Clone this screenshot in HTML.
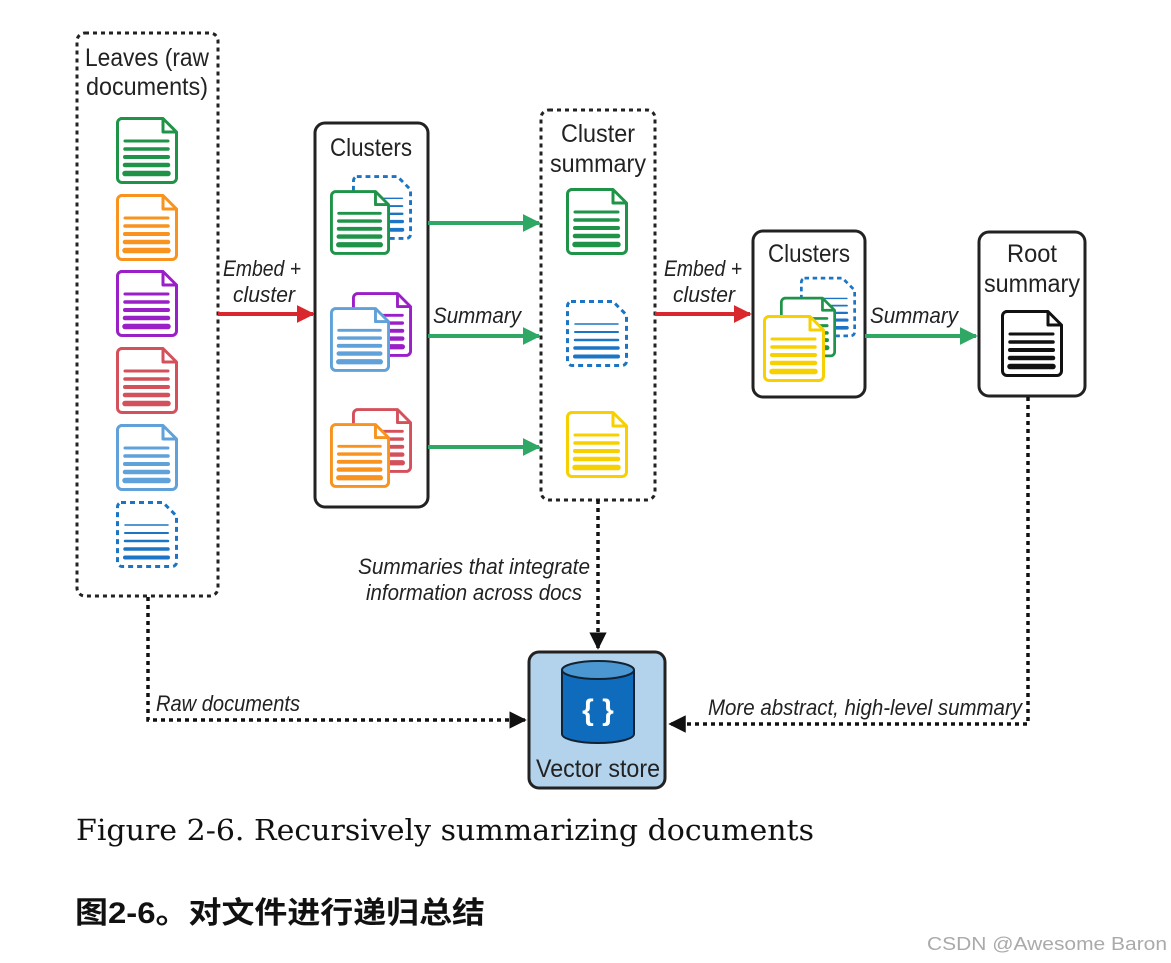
<!DOCTYPE html>
<html><head><meta charset="utf-8"><style>
html,body{margin:0;padding:0;background:#fff;}
svg{display:block}
.t{font-family:"Liberation Sans",sans-serif;fill:#222;}
</style></head><body>
<svg width="1171" height="963" viewBox="0 0 1171 963" xmlns="http://www.w3.org/2000/svg">
<defs>
<symbol id="doc" viewBox="0 0 62 67">
<path d="M5,1.5 H47 L60.5,15 V61 a4.5,4.5 0 0 1 -4.5,4.5 H6 a4.5,4.5 0 0 1 -4.5,-4.5 V6 a4.5,4.5 0 0 1 4.5,-4.5Z" fill="#fff" stroke="currentColor" stroke-width="3" stroke-linejoin="round"/>
<path d="M47,1.5 V15 H60.5" fill="none" stroke="currentColor" stroke-width="3" stroke-linejoin="round"/>
<g stroke="currentColor" stroke-linecap="round">
<line x1="9" y1="24" x2="52" y2="24" stroke-width="3"/>
<line x1="9" y1="32" x2="52" y2="32" stroke-width="3.5"/>
<line x1="9" y1="40" x2="52" y2="40" stroke-width="4"/>
<line x1="9" y1="48" x2="52" y2="48" stroke-width="4.5"/>
<line x1="9" y1="56.5" x2="52" y2="56.5" stroke-width="5.5"/>
</g>
</symbol>
<symbol id="ddoc" viewBox="0 0 62 67">
<path d="M5,1.5 H47 L60.5,15 V61 a4.5,4.5 0 0 1 -4.5,4.5 H6 a4.5,4.5 0 0 1 -4.5,-4.5 V6 a4.5,4.5 0 0 1 4.5,-4.5Z" fill="#fff" stroke="currentColor" stroke-width="3" stroke-dasharray="5 4"/>
<g stroke="currentColor" stroke-linecap="round">
<line x1="9" y1="24" x2="52" y2="24" stroke-width="1.5"/>
<line x1="9" y1="32" x2="52" y2="32" stroke-width="2"/>
<line x1="9" y1="40" x2="52" y2="40" stroke-width="2.5"/>
<line x1="9" y1="48" x2="52" y2="48" stroke-width="3.5"/>
<line x1="9" y1="56.5" x2="52" y2="56.5" stroke-width="4"/>
</g>
</symbol>
<marker id="ag" viewBox="0 0 10 10" refX="9" refY="5" markerWidth="4.5" markerHeight="4.5" orient="auto" markerUnits="strokeWidth"><path d="M0,0 L10,5 L0,10Z" fill="#2fa866"/></marker>
<marker id="ar" viewBox="0 0 10 10" refX="9" refY="5" markerWidth="4.5" markerHeight="4.5" orient="auto" markerUnits="strokeWidth"><path d="M0,0 L10,5 L0,10Z" fill="#d9272e"/></marker>
<marker id="ab" viewBox="0 0 10 10" refX="9" refY="5" markerWidth="5" markerHeight="5" orient="auto" markerUnits="strokeWidth"><path d="M0,0 L10,5 L0,10Z" fill="#111"/></marker>
</defs>

<rect x="77" y="33" width="141" height="563" rx="8" fill="none" stroke="#222" stroke-width="3" stroke-dasharray="4 4"/>
<text class="t" x="147" y="66" font-size="25" text-anchor="middle" textLength="124" lengthAdjust="spacingAndGlyphs">Leaves (raw</text>
<text class="t" x="147" y="95" font-size="25" text-anchor="middle" textLength="122" lengthAdjust="spacingAndGlyphs">documents)</text>
<use href="#doc" x="116" y="117" width="62" height="67" style="color:#1f9448"/>
<use href="#doc" x="116" y="194" width="62" height="67" style="color:#f7931e"/>
<use href="#doc" x="116" y="270" width="62" height="67" style="color:#9b1fc7"/>
<use href="#doc" x="116" y="347" width="62" height="67" style="color:#d4515c"/>
<use href="#doc" x="116" y="424" width="62" height="67" style="color:#5fa1d8"/>
<use href="#ddoc" x="116" y="501" width="62" height="67" style="color:#1b75c4"/>

<text class="t" x="262" y="276" font-size="22" font-style="italic" text-anchor="middle" textLength="78" lengthAdjust="spacingAndGlyphs">Embed +</text>
<text class="t" x="264" y="302" font-size="22" font-style="italic" text-anchor="middle" textLength="62" lengthAdjust="spacingAndGlyphs">cluster</text>
<line x1="218" y1="314" x2="313" y2="314" stroke="#d9272e" stroke-width="4" marker-end="url(#ar)"/>

<rect x="315" y="123" width="113" height="384" rx="10" fill="#fff" stroke="#222" stroke-width="3"/>
<text class="t" x="371" y="156" font-size="25" text-anchor="middle" textLength="82" lengthAdjust="spacingAndGlyphs">Clusters</text>
<use href="#ddoc" x="352" y="175" width="60" height="65" style="color:#1b75c4"/>
<use href="#doc" x="330" y="190" width="60" height="65" style="color:#1f9448"/>
<use href="#doc" x="352" y="292" width="60" height="65" style="color:#9b1fc7"/>
<use href="#doc" x="330" y="307" width="60" height="65" style="color:#5fa1d8"/>
<use href="#doc" x="352" y="408" width="60" height="65" style="color:#d4515c"/>
<use href="#doc" x="330" y="423" width="60" height="65" style="color:#f7931e"/>

<line x1="428" y1="223" x2="539" y2="223" stroke="#2fa866" stroke-width="4" marker-end="url(#ag)"/>
<line x1="428" y1="336" x2="539" y2="336" stroke="#2fa866" stroke-width="4" marker-end="url(#ag)"/>
<line x1="428" y1="447" x2="539" y2="447" stroke="#2fa866" stroke-width="4" marker-end="url(#ag)"/>
<text class="t" x="477" y="323" font-size="22" font-style="italic" text-anchor="middle" textLength="88" lengthAdjust="spacingAndGlyphs">Summary</text>

<rect x="541" y="110" width="114" height="390" rx="8" fill="none" stroke="#222" stroke-width="3" stroke-dasharray="4 4"/>
<text class="t" x="598" y="142" font-size="25" text-anchor="middle" textLength="74" lengthAdjust="spacingAndGlyphs">Cluster</text>
<text class="t" x="598" y="172" font-size="25" text-anchor="middle" textLength="96" lengthAdjust="spacingAndGlyphs">summary</text>
<use href="#doc" x="566" y="188" width="62" height="67" style="color:#1f9448"/>
<use href="#ddoc" x="566" y="300" width="62" height="67" style="color:#1b75c4"/>
<use href="#doc" x="566" y="411" width="62" height="67" style="color:#f7d000"/>

<text class="t" x="703" y="276" font-size="22" font-style="italic" text-anchor="middle" textLength="78" lengthAdjust="spacingAndGlyphs">Embed +</text>
<text class="t" x="704" y="302" font-size="22" font-style="italic" text-anchor="middle" textLength="62" lengthAdjust="spacingAndGlyphs">cluster</text>
<line x1="655" y1="314" x2="750" y2="314" stroke="#d9272e" stroke-width="4" marker-end="url(#ar)"/>

<rect x="753" y="231" width="112" height="166" rx="10" fill="#fff" stroke="#222" stroke-width="3"/>
<text class="t" x="809" y="262" font-size="25" text-anchor="middle" textLength="82" lengthAdjust="spacingAndGlyphs">Clusters</text>
<use href="#ddoc" x="800" y="276" width="56" height="62" style="color:#1b75c4"/>
<use href="#doc" x="780" y="296" width="56" height="62" style="color:#1f9448"/>
<use href="#doc" x="763" y="315" width="62" height="67" style="color:#f7d000"/>

<line x1="865" y1="336" x2="976" y2="336" stroke="#2fa866" stroke-width="4" marker-end="url(#ag)"/>
<text class="t" x="914" y="323" font-size="22" font-style="italic" text-anchor="middle" textLength="88" lengthAdjust="spacingAndGlyphs">Summary</text>

<rect x="979" y="232" width="106" height="164" rx="10" fill="#fff" stroke="#222" stroke-width="3"/>
<text class="t" x="1032" y="262" font-size="25" text-anchor="middle" textLength="50" lengthAdjust="spacingAndGlyphs">Root</text>
<text class="t" x="1032" y="292" font-size="25" text-anchor="middle" textLength="96" lengthAdjust="spacingAndGlyphs">summary</text>
<use href="#doc" x="1001" y="310" width="62" height="67" style="color:#111"/>

<path d="M148,597 V720 H525" fill="none" stroke="#111" stroke-width="3.5" stroke-dasharray="4 4" marker-end="url(#ab)"/>
<path d="M598,500 V648" fill="none" stroke="#111" stroke-width="3.5" stroke-dasharray="4 4" marker-end="url(#ab)"/>
<path d="M1028,397 V724 H670" fill="none" stroke="#111" stroke-width="3.5" stroke-dasharray="4 4" marker-end="url(#ab)"/>
<text class="t" x="156" y="711" font-size="22" font-style="italic" textLength="144" lengthAdjust="spacingAndGlyphs">Raw documents</text>
<text class="t" x="590" y="574" font-size="22" font-style="italic" text-anchor="end" textLength="232" lengthAdjust="spacingAndGlyphs">Summaries that integrate</text>
<text class="t" x="582" y="600" font-size="22" font-style="italic" text-anchor="end" textLength="216" lengthAdjust="spacingAndGlyphs">information across docs</text>
<text class="t" x="1022" y="715" font-size="22" font-style="italic" text-anchor="end" textLength="314" lengthAdjust="spacingAndGlyphs">More abstract, high-level summary</text>

<rect x="529" y="652" width="136" height="136" rx="10" fill="#b3d3ec" stroke="#222" stroke-width="3"/>
<path d="M562,670 V734 A36,9 0 0 0 634,734 V670" fill="#0f6cbd" stroke="#123" stroke-width="2"/>
<ellipse cx="598" cy="670" rx="36" ry="9" fill="#4a97d2" stroke="#123" stroke-width="2"/>
<text x="598" y="720" font-family="Liberation Sans,sans-serif" font-size="30" font-weight="bold" fill="#fff" text-anchor="middle">{ }</text>
<text class="t" x="598" y="777" font-size="25" text-anchor="middle" textLength="124" lengthAdjust="spacingAndGlyphs">Vector store</text>

<text x="76" y="840" font-family="DejaVu Serif,serif" font-size="29" fill="#111" textLength="738" lengthAdjust="spacingAndGlyphs">Figure 2-6. Recursively summarizing documents</text>
<text x="75" y="923" font-family="Liberation Sans,'Noto Sans CJK SC',sans-serif" font-size="30" font-weight="bold" fill="#111" textLength="410" lengthAdjust="spacingAndGlyphs">图2-6。对文件进行递归总结</text>
<text x="927" y="950" font-family="Liberation Sans,sans-serif" font-size="18" fill="#aaa" textLength="240" lengthAdjust="spacingAndGlyphs">CSDN @Awesome Baron</text>
</svg>
</body></html>
